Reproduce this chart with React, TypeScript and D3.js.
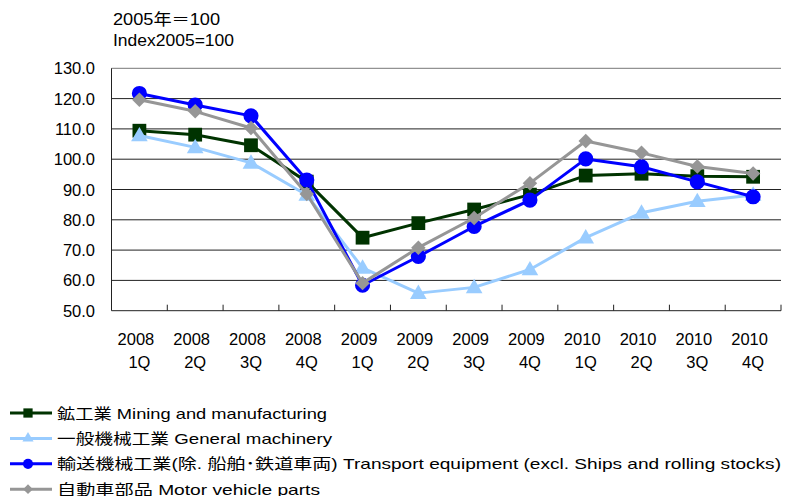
import React from "react";
import * as d3 from "d3";

const years = ["2008", "2008", "2008", "2008", "2009", "2009", "2009", "2009", "2010", "2010", "2010", "2010"];
const quarters = ["1Q", "2Q", "3Q", "4Q", "1Q", "2Q", "3Q", "4Q", "1Q", "2Q", "3Q", "4Q"];
const categories = years.map((y, i) => `${y} ${quarters[i]}`);

const mining = [109.4, 108.1, 104.6, 92.6, 74.1, 78.9, 83.4, 88.3, 94.6, 95.2, 94.4, 94.2];
const generalMachinery = [107.8, 103.9, 98.8, 88.2, 64.1, 55.8, 57.7, 63.6, 74.1, 82.3, 86.1, 88.2];
const transport = [121.7, 117.9, 114.3, 93.1, 58.4, 67.9, 77.8, 86.5, 100.1, 97.5, 92.5, 87.6];
const motorParts = [119.6, 115.8, 110.3, 88.5, 59.1, 70.8, 80.6, 92.1, 106.0, 102.1, 97.6, 95.3];

const yTicks = [50, 60, 70, 80, 90, 100, 110, 120, 130];

const seriesNames = [
  "鉱工業 Mining and manufacturing",
  "一般機械工業 General machinery",
  "輸送機械工業(除. 船舶･鉄道車両) Transport equipment (excl. Ships and rolling stocks)",
  "自動車部品 Motor vehicle parts",
];

// diamond = square turned 45deg
const series = [
  { name: seriesNames[0], values: mining, color: "#003300", symbol: d3.symbolSquare, size: 190, rot: 0, legendW: 270 },
  { name: seriesNames[1], values: generalMachinery, color: "#99CCFF", symbol: d3.symbolTriangle, size: 120, rot: 0, legendW: 275 },
  { name: seriesNames[2], values: transport, color: "#0000FF", symbol: d3.symbolCircle, size: 180, rot: 0, legendW: 724 },
  { name: seriesNames[3], values: motorParts, color: "#969696", symbol: d3.symbolSquare, size: 105, rot: 45, legendW: 263 },
];

const font = "'Liberation Sans', Arial, 'Noto Sans CJK JP', sans-serif";

export default function App() {
  const width = 785;
  const height = 496;
  const left = 111.5;
  const right = 781;
  const top = 68.3;
  const bottom = 310.7;

  const x = d3.scaleBand().domain(categories).range([left, right]).padding(0);
  const y = d3.scaleLinear().domain([50, 130]).range([bottom, top]);
  const cx = (i: number) => (x(categories[i]) as number) + x.bandwidth() / 2;

  const line = d3
    .line<number>()
    .x((_, i) => cx(i))
    .y((d) => y(d));

  return (
    <svg width={width} height={height} style={{ position: "absolute", left: 0, top: 0 }} fontFamily={font}>
      <rect width={width} height={height} fill="#fff" />
      <text x={113} y={25} fontSize={16} fill="#000" textLength={107} lengthAdjust="spacingAndGlyphs">2005年＝100</text>
      <text x={113} y={46} fontSize={16} fill="#000" textLength={121} lengthAdjust="spacingAndGlyphs">Index2005=100</text>

      {yTicks.map((t) => (
        <g key={t}>
          {t > 50 && (
            <line x1={left} x2={right} y1={y(t)} y2={y(t)} stroke={t === 130 ? "#777" : "#222"} strokeWidth={1} />
          )}
          <text x={95} y={y(t) + 6} textAnchor="end" fontSize={16.5} fill="#000">
            {t.toFixed(1)}
          </text>
        </g>
      ))}

      <line x1={left} x2={left} y1={top} y2={bottom} stroke="#222" strokeWidth={1} />
      <line x1={left} x2={right} y1={bottom} y2={bottom} stroke="#222" strokeWidth={1} />
      {categories.map((c) => (
        <line
          key={c}
          x1={(x(c) as number) + x.bandwidth()}
          x2={(x(c) as number) + x.bandwidth()}
          y1={bottom - 6}
          y2={bottom}
          stroke="#222"
          strokeWidth={1}
        />
      ))}
      {categories.map((c, i) => (
        <g key={"l" + c}>
          <text x={cx(i) - 3.5} y={345} textAnchor="middle" fontSize={16.5} fill="#000">
            {years[i]}
          </text>
          <text x={cx(i)} y={368} textAnchor="middle" fontSize={16.5} fill="#000">
            {quarters[i]}
          </text>
        </g>
      ))}

      {series.map((s) => (
        <g key={s.name}>
          <path d={line(s.values) as string} fill="none" stroke={s.color} strokeWidth={3} strokeLinejoin="round" />
          {s.values.map((v, i) => (
            <path
              key={i}
              d={d3.symbol().type(s.symbol).size(s.size)() as string}
              transform={`translate(${cx(i)},${y(v) + (s.symbol === d3.symbolTriangle ? 1 : 0)}) rotate(${s.rot})`}
              fill={s.color}
            />
          ))}
        </g>
      ))}

      {series.map((s, k) => {
        const ly = 413 + k * 25.4;
        return (
          <g key={"leg" + s.name}>
            <line x1={10} x2={52} y1={ly} y2={ly} stroke={s.color} strokeWidth={3} />
            <path
              d={d3.symbol().type(s.symbol).size(s.size * 0.45)() as string}
              transform={`translate(28,${ly}) rotate(${s.rot})`}
              fill={s.color}
            />
            <text
              x={57}
              y={ly + 5.5}
              fontSize={15}
              fill="#000"
              textLength={s.legendW}
              lengthAdjust="spacingAndGlyphs"
            >
              {s.name}
            </text>
          </g>
        );
      })}
    </svg>
  );
}
